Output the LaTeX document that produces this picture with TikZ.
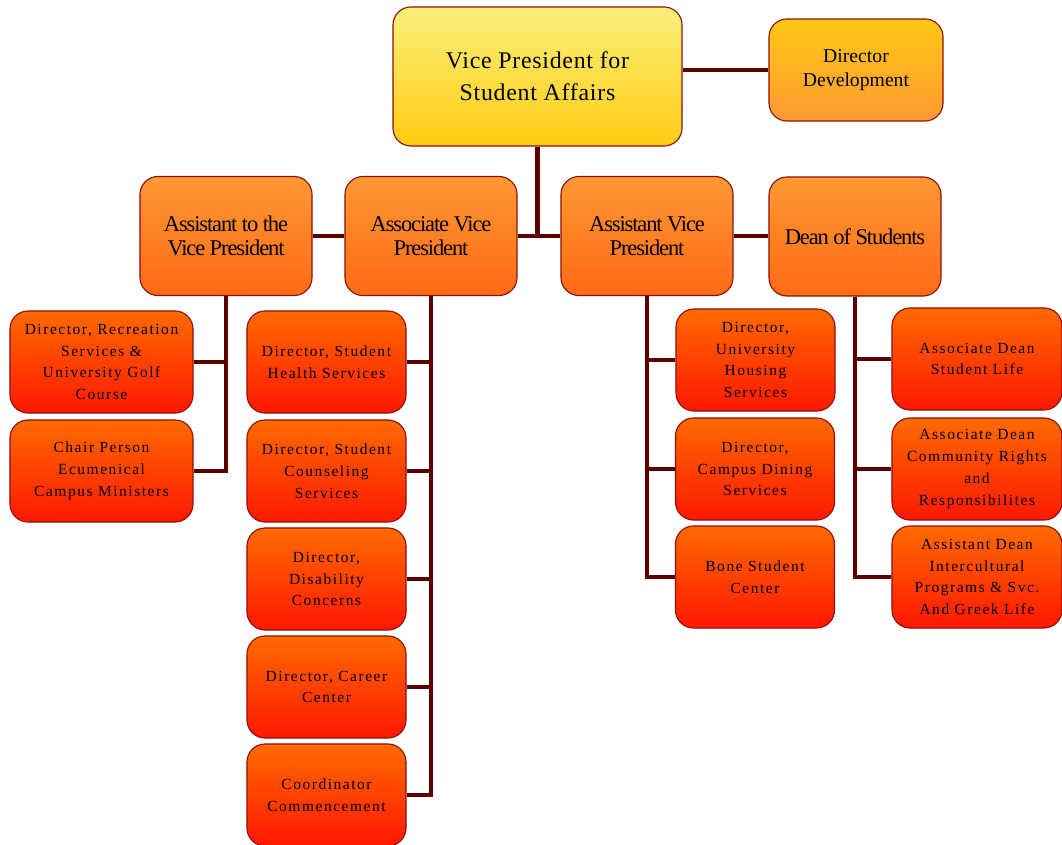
\documentclass[tikz,border=0pt]{standalone}
\usepackage{fontspec}
\setmainfont{Liberation Serif}
\newfontfamily\wide[LetterSpace=10]{Liberation Serif}
\newfontfamily\slight[LetterSpace=3]{Liberation Serif}
\newfontfamily\tight[LetterSpace=-5]{Liberation Serif}
\usepackage{xcolor}
\usetikzlibrary{calc}

\definecolor{vptop}{HTML}{FAF07C}
\definecolor{vpbot}{HTML}{FFCC11}
\definecolor{devtop}{HTML}{FFC814}
\definecolor{devbot}{HTML}{FF9A33}
\definecolor{midtop}{HTML}{FF9933}
\definecolor{midbot}{HTML}{FF6A14}
\definecolor{lowtop}{HTML}{FF6A00}
\definecolor{lowbot}{HTML}{FF1800}
\definecolor{boxline}{HTML}{8E1010}
\definecolor{wire}{HTML}{5C0000}

\begin{document}
\begin{tikzpicture} [
       x=0.025cm, y=-0.025cm,
       box/.style={draw=boxline, line width=0.8pt, rounded corners=0.45cm,
               align=center, inner sep=2pt},
       leader/.style={box, top color=vptop, bottom color=vpbot,
               minimum width=7.225cm, minimum height=3.475cm,
               font=\slight\fontsize{17}{23}\selectfont},
       devel/.style={box, top color=devtop, bottom color=devbot,
               minimum width=4.35cm, minimum height=2.55cm,
               font=\fontsize{14}{17.5}\selectfont},
       deputy/.style={box, top color=midtop, bottom color=midbot,
               minimum width=4.3cm, minimum height=2.975cm,
               font=\tight\fontsize{16}{17}\selectfont},
       office/.style={box, top color=lowtop, bottom color=lowbot,
               minimum width=3.975cm, minimum height=2.55cm,
               font=\wide\fontsize{11}{15.5}\selectfont},
       line/.style = {draw=wire, line width=3.5pt},
       ]
       \useasboundingbox (0,0) rectangle (1062,845);
       % top level
       \node (vp) [leader] at (537.5,76.5) {Vice President for\\Student Affairs};
       \node (dev) [devel] at (856,70) {Director\\Development};
       % second row
       \node (asst) [deputy] at (226,236) {Assistant to the\\Vice President};
       \node (assoc) [deputy] at (431,236) {Associate Vice\\President};
       \node (avp) [deputy] at (647,236) {Assistant Vice\\President};
       \node (dean) [deputy] at (855,236.5) {Dean of Students};
       % under assistant to the vp
       \node (rec) [office, minimum width=4.575cm] at (101.5,362) {Director, Recreation\\Services \&\\University Golf\\Course};
       \node (chair) [office, minimum width=4.575cm] at (101.5,471) {Chair Person\\Ecumenical\\Campus Ministers};
       % under associate vp
       \node (health) [office] at (326.5,362) {Director, Student\\Health Services};
       \node (couns) [office] at (326.5,471) {Director, Student\\Counseling\\Services};
       \node (disab) [office] at (326.5,579) {Director,\\Disability\\Concerns};
       \node (career) [office] at (326.5,687) {Director, Career\\Center};
       \node (comm) [office] at (326.5,795) {Coordinator\\Commencement};
       % under assistant vp
       \node (house) [office] at (755.5,360) {Director,\\University\\Housing\\Services};
       \node (dining) [office] at (755,469) {Director,\\Campus Dining\\Services};
       \node (bone) [office] at (755,577) {Bone Student\\Center};
       % under dean of students
       \node (life) [office, minimum width=4.25cm] at (977,359) {Associate Dean\\Student Life};
       \node (rights) [office, minimum width=4.25cm] at (977,469) {Associate Dean\\Community Rights\\and\\Responsibilites};
       \node (multi) [office, minimum width=4.25cm] at (977,577) {Assistant Dean\\Intercultural\\Programs \& Svc.\\And Greek Life};
       \begin{scope}[every path/.style=line]
       \path (vp.east |- dev.west) -- (dev.west);
       \path (vp.south) |- (assoc.east);
       \path (vp.south) |- (avp.west);
       \path (asst) -- (assoc);
       \path (avp.east) -- (avp.east -| dean.west);
       \path (asst.south) |- (rec.east);
       \path (asst.south) |- (chair.east);
       \path (assoc.south) |- (health.east);
       \path (assoc.south) |- (couns.east);
       \path (assoc.south) |- (disab.east);
       \path (assoc.south) |- (career.east);
       \path (assoc.south) |- (comm.east);
       \path (avp.south) |- (house.west);
       \path (avp.south) |- (dining.west);
       \path (avp.south) |- (bone.west);
       \path (dean.south) |- (life.west);
       \path (dean.south) |- (rights.west);
       \path (dean.south) |- (multi.west);
       \end{scope}
\end{tikzpicture}
\end{document}
